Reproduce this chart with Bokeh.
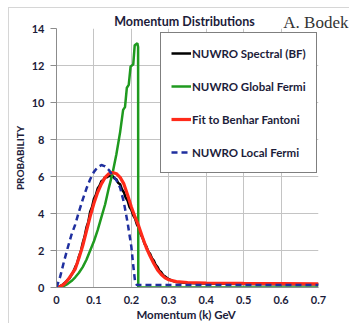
from bokeh.plotting import figure
from bokeh.models import Legend, LegendItem, Label, Title, FixedTicker, InlineStyleSheet
from bokeh.embed import file_html
from bokeh.resources import INLINE

# ---- data ----
spectral_k = [0, 0.005, 0.01, 0.015, 0.02, 0.025, 0.03, 0.035, 0.04, 0.045, 0.05, 0.055, 0.06, 0.065,
              0.07, 0.075, 0.08, 0.085, 0.09, 0.095, 0.10, 0.105, 0.11, 0.115, 0.12, 0.125, 0.13, 0.135,
              0.14, 0.145, 0.15, 0.155, 0.16, 0.165, 0.17, 0.175, 0.18, 0.185, 0.19, 0.195, 0.20, 0.205,
              0.21, 0.215, 0.22, 0.225, 0.23, 0.235, 0.24, 0.245, 0.25, 0.255, 0.26, 0.265, 0.27, 0.275,
              0.28, 0.285, 0.29, 0.30, 0.31, 0.32, 0.35, 0.40, 0.50, 0.60, 0.70]
spectral_p = [0, 0.02, 0.08, 0.12, 0.22, 0.30, 0.42, 0.50, 0.68, 0.85, 1.10, 1.30, 1.68, 1.95,
              2.40, 2.75, 3.25, 3.55, 4.10, 4.35, 4.80, 5.00, 5.35, 5.50, 5.75, 5.80, 5.98, 5.95,
              6.05, 6.00, 6.02, 5.90, 5.85, 5.65, 5.58, 5.30, 5.15, 4.85, 4.70, 4.35, 4.20, 3.90,
              3.72, 3.40, 3.22, 2.88, 2.68, 2.38, 2.22, 1.95, 1.82, 1.58, 1.46, 1.22, 1.10, 0.90,
              0.82, 0.66, 0.60, 0.45, 0.36, 0.30, 0.24, 0.21, 0.19, 0.18, 0.17]

global_k = [0, 0.01, 0.02, 0.03, 0.04, 0.05, 0.06, 0.07, 0.08, 0.09, 0.10, 0.11, 0.12, 0.13, 0.14,
            0.15, 0.16, 0.17, 0.178, 0.183, 0.188, 0.193, 0.198, 0.205, 0.209, 0.216, 0.218, 0.2185,
            0.30, 0.40, 0.50, 0.60, 0.70]
global_p = [0, 0.02, 0.08, 0.20, 0.35, 0.55, 0.80, 1.10, 1.50, 2.00, 2.50, 3.10, 3.80, 4.50, 5.40,
            6.20, 7.20, 8.40, 9.60, 9.75, 10.80, 10.95, 11.95, 12.05, 13.10, 13.20, 13.00, 0,
            0, 0, 0, 0, 0]

fit_k = [0, 0.01, 0.02, 0.03, 0.04, 0.05, 0.06, 0.07, 0.08, 0.09, 0.10, 0.11, 0.12, 0.13, 0.14,
         0.15, 0.16, 0.17, 0.18, 0.19, 0.20, 0.21, 0.22, 0.23, 0.24, 0.25, 0.26, 0.27, 0.28, 0.29,
         0.30, 0.32, 0.35, 0.40, 0.50, 0.60, 0.70]
fit_p = [0, 0.05, 0.18, 0.40, 0.70, 1.00, 1.60, 2.25, 3.05, 3.85, 4.55, 5.15, 5.60, 5.95, 6.15,
         6.22, 6.15, 5.95, 5.60, 5.00, 4.35, 3.80, 3.30, 2.70, 2.15, 1.70, 1.30, 0.95, 0.70, 0.52,
         0.42, 0.32, 0.27, 0.24, 0.22, 0.21, 0.20]

local_k = [0, 0.01, 0.02, 0.03, 0.04, 0.05, 0.06, 0.07, 0.08, 0.09, 0.10, 0.11, 0.12, 0.13, 0.14,
           0.15, 0.16, 0.17, 0.18, 0.19, 0.20, 0.205, 0.21, 0.215, 0.30, 0.40, 0.50, 0.60, 0.70]
local_p = [0, 0.60, 1.40, 2.15, 2.85, 3.40, 4.10, 4.75, 5.35, 5.85, 6.25, 6.50, 6.62, 6.55, 6.35,
           6.05, 5.80, 5.40, 4.60, 3.50, 2.20, 1.20, 0.30, 0.13, 0.13, 0.13, 0.13, 0.13, 0.13]

x_ticks = [0, 0.1, 0.2, 0.3, 0.4, 0.5, 0.6, 0.7]
y_ticks = [0, 2, 4, 6, 8, 10, 12, 14]

series_names = ["NUWRO Spectral (BF)", "NUWRO Global Fermi", "Fit to Benhar Fantoni", "NUWRO Local Fermi"]
title_text = "Momentum Distributions"
author_text = "A. Bodek"
x_label = "Momentum (k)  GeV"
y_label = "PROBABILITY"

# ---- figure ----
FONT = "Lato"
TEXTC = "#1c1c3a"
frame_css = InlineStyleSheet(css="""
:host { position: relative; }
:host::after { content: ""; position: absolute; left: 8px; top: 7px; right: -20px; bottom: -20px;
               border: 1px solid #d6d6d6; pointer-events: none; }
""")
p = figure(width=349, height=323, x_range=(0, 0.7), y_range=(0, 14),
           output_backend="svg", toolbar_location=None,
           min_border_left=56, min_border_right=31, min_border_top=28, min_border_bottom=36,
           stylesheets=[frame_css])
p.outline_line_color = None
p.background_fill_color = "white"
p.border_fill_color = "white"
p.title.visible = False

for ax in (p.xaxis[0], p.yaxis[0]):
    ax.axis_line_color = "#8c8c8c"
    ax.major_tick_line_color = "#8c8c8c"
    ax.minor_tick_line_color = None
    ax.major_label_text_font = FONT
    ax.major_label_text_font_style = "bold"
    ax.major_label_text_font_size = "11px"
    ax.major_label_text_color = TEXTC
    ax.axis_label_text_font = FONT
    ax.axis_label_text_font_style = "bold"
    ax.axis_label_text_color = TEXTC
p.xaxis.ticker = FixedTicker(ticks=x_ticks)
p.yaxis.ticker = FixedTicker(ticks=y_ticks)
p.xaxis.major_tick_out = 0
p.xaxis.major_tick_in = 0
p.xaxis.major_label_standoff = 8
p.yaxis.major_tick_out = 6
p.yaxis.major_tick_in = 0
p.yaxis.major_label_standoff = 6
p.xaxis.major_label_overrides = {0: "0"}
p.xaxis.axis_label = x_label
p.xaxis.axis_label_text_font_size = "11.5px"
p.xaxis.axis_label_standoff = 1
p.yaxis.axis_label = y_label
p.yaxis.axis_label_text_font_size = "10px"
p.yaxis.axis_label_standoff = 3
p.grid.grid_line_color = "#c4c4c4"
p.grid.grid_line_width = 1

r_black = p.line(spectral_k, spectral_p, line_color="black", line_width=2.5)
r_green = p.line(global_k, global_p, line_color="#1f9a1f", line_width=2.5)
r_red = p.line(fit_k, fit_p, line_color="#ff2a1a", line_width=3.2)
r_blue = p.line(local_k, local_p, line_color="#1f2f9f", line_width=2.5, line_dash="6 4")

legend = Legend(items=[LegendItem(label=series_names[0], renderers=[r_black]),
                       LegendItem(label=series_names[1], renderers=[r_green]),
                       LegendItem(label=series_names[2], renderers=[r_red]),
                       LegendItem(label=series_names[3], renderers=[r_blue])],
                location=(104, 114), padding=10, spacing=13, margin=0,
                label_height=20, glyph_height=20, glyph_width=20, label_standoff=1,
                label_text_font=FONT, label_text_font_style="bold",
                label_text_font_size="11.5px", label_text_color=TEXTC,
                border_line_color="black", border_line_width=1,
                background_fill_color="white", background_fill_alpha=1)
p.add_layout(legend)

# top panel: author credit (nearest the frame) and chart title (outer slot)
p.add_layout(Title(text=author_text, align="right", vertical_align="top",
                   offset=-30, standoff=-10,
                   text_font="Liberation Serif", text_font_style="normal",
                   text_font_size="17px", text_color="#333333"), "above")
p.add_layout(Label(x=128, y=-4, x_units="screen", y_units="screen", text=title_text,
                   text_font=FONT, text_font_style="bold", text_font_size="12.5px",
                   text_color=TEXTC, text_align="center", text_baseline="middle"), "above")

open("out.html", "w").write(file_html(p, INLINE))
